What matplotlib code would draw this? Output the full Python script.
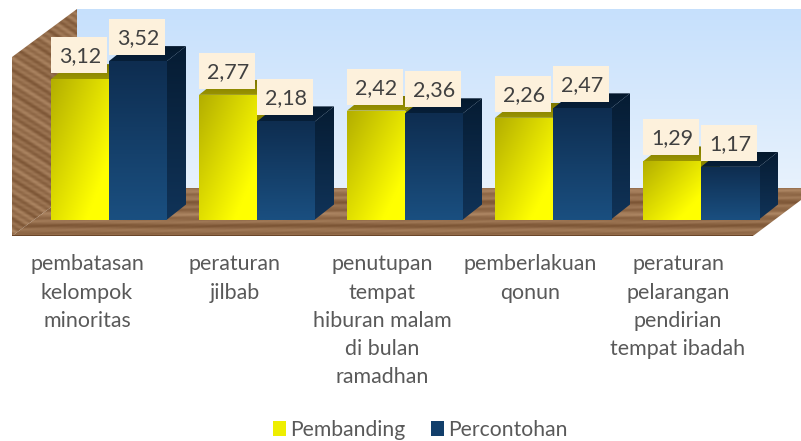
import numpy as np
import matplotlib
matplotlib.use('Agg')
import matplotlib.pyplot as plt
from matplotlib.patches import Polygon, Rectangle, Patch
from matplotlib.colors import to_rgb

plt.rcParams['font.family'] = ['Lato', 'DejaVu Sans']

categories = ['pembatasan\nkelompok\nminoritas', 'peraturan\njilbab',
              'penutupan\ntempat\nhiburan malam\ndi bulan\nramadhan',
              'pemberlakuan\nqonun', 'peraturan\npelarangan\npendirian\ntempat ibadah']
pembanding = [3.12, 2.77, 2.42, 2.26, 1.29]
percontohan = [3.52, 2.18, 2.36, 2.47, 1.17]
value_labels_a = ['3,12', '2,77', '2,42', '2,26', '1,29']
value_labels_b = ['3,52', '2,18', '2,36', '2,47', '1,17']

W, H = 801, 441
BASE_Y = 219.5    # pixel row of value 0
PX_UNIT = 45      # pixels per value unit
PITCH = 148       # pixels between groups
LEFT = 51
BAR_W = 58
DX, DY = 19, 15   # depth of the bars

fig = plt.figure(figsize=(W / 100, H / 100), dpi=100)
ax = fig.add_axes([0, 0, 1, 1])
ax.set_xlim(-LEFT / PITCH, (W - LEFT) / PITCH)
ax.set_ylim((BASE_Y - H) / PX_UNIT, BASE_Y / PX_UNIT)
ax.axis('off')


def px(x, y):
    # pixel of the picture -> data coords
    return (x - LEFT) / PITCH, (BASE_Y - y) / PX_UNIT


def shaded(points, img, zorder):
    # polygon in pixel coords filled with an image
    pts = [px(*p) for p in points]
    poly = Polygon(pts, closed=True, fc='none', ec='none', zorder=zorder)
    ax.add_patch(poly)
    xs = [p[0] for p in pts]
    ys = [p[1] for p in pts]
    im = ax.imshow(img, extent=(min(xs), max(xs), min(ys), max(ys)), origin='upper',
                   aspect='auto', zorder=zorder, interpolation='bilinear')
    im.set_clip_path(poly)


def ramp(c1, c2, t):
    c1, c2 = np.array(to_rgb(c1)), np.array(to_rgb(c2))
    return c1 + (c2 - c1) * t[..., None]


def wood(rows, cols, dark='#7c5535', light='#ac8562', slope=0.0, wave=2.0):
    # grain from sines
    yy, xx = np.mgrid[0:rows, 0:cols]
    g = (np.sin(yy * 0.8 + slope * xx + wave * np.sin(xx / 37.0)) +
         0.7 * np.sin(yy * 0.29 + slope * xx * 0.4 + 0.2 * wave * xx / 61.0) +
         0.2 * np.sin(xx / 9.0 + yy * 1.7))
    g = (g + 1.9) / 3.8
    return ramp(dark, light, np.clip(g, 0, 1))


# back wall
t = np.linspace(0, 1, 120)[:, None] * np.ones((120, 2))
shaded([(77, 9), (801, 9), (801, 190), (77, 190)], ramp('#c6e0fc', '#e8f2fd', t), 1)

# left wall and floor
shaded([(12, 57), (77, 9), (77, 188), (12, 236)], wood(228, 65, slope=-0.55), 2)
shaded([(77, 188), (801, 188), (801, 200), (753, 236), (12, 236)], wood(48, 790, wave=0.25), 2)
ax.add_patch(Rectangle(px(12, 236), 741 / PITCH, 1.5 / PX_UNIT, fc='#6a4528', ec='none', zorder=3))


def draw_bars(values, offset, front, side, top, zorder):
    xs = np.arange(len(values)) + offset
    bars = ax.bar(xs, values, width=BAR_W / PITCH, align='edge', color='none',
                  linewidth=0, zorder=zorder)
    for bar in bars:
        x0 = LEFT + bar.get_x() * PITCH
        x1 = x0 + BAR_W
        y1 = BASE_Y - bar.get_height() * PX_UNIT
        # side face
        shaded([(x1, y1), (x1 + DX, y1 - DY), (x1 + DX, BASE_Y - DY), (x1, BASE_Y)],
               ramp(side[0], side[1], t), zorder)
        # top face
        shaded([(x0, y1), (x0 + DX, y1 - DY), (x1 + DX, y1 - DY), (x1, y1)],
               ramp(top[0], top[1], t), zorder)
        # front face
        yy, xx = np.mgrid[0:1:80j, 0:1:60j]
        if front[2] == 'diag':
            img = ramp(front[0], front[1], np.clip(0.65 * xx + 0.6 * yy, 0, 1))
        else:
            img = ramp(front[0], front[1], yy)
        ax.imshow(img, extent=(bar.get_x(), bar.get_x() + bar.get_width(), 0, bar.get_height()),
                  origin='upper', aspect='auto', zorder=zorder + 0.1, interpolation='bilinear')
    return bars


bars_a = draw_bars(pembanding, 0, ('#b3ae00', '#ffff00', 'diag'),
                   ('#8b8500', '#8b8500'), ('#7d7700', '#9a9400'), 4)
bars_b = draw_bars(percontohan, BAR_W / PITCH, ('#0e2d50', '#1a4f80', 'vert'),
                   ('#061c33', '#103358'), ('#04182c', '#071f38'), 5)

# value labels on top of everything
for bars, labels in ((bars_a, value_labels_a), (bars_b, value_labels_b)):
    for bar, lab in zip(bars, labels):
        ax.annotate(lab, (bar.get_x() + bar.get_width() / 2, bar.get_height()),
                    xytext=(0, 23), textcoords='offset pixels', ha='center', va='center',
                    fontsize=15.5, color='#404040', zorder=10)
        cx = LEFT + (bar.get_x() + bar.get_width() / 2) * PITCH - 1
        y1 = BASE_Y - bar.get_height() * PX_UNIT
        ll = px(cx - 28, y1 - 6)
        ax.add_patch(Rectangle(ll, 56 / PITCH, 36 / PX_UNIT, fc='#fdf1dc', ec='none', zorder=9))

# category labels, not centred on the groups in the source
label_x = [87, 235, 382, 530, 678]
for cat, lx in zip(categories, label_x):
    ax.text(*px(lx, 254.5), cat, ha='center', va='top', fontsize=15.4, color='#595959',
            linespacing=1.51, zorder=10)

handles = [Patch(facecolor='#eeee00', label='Pembanding'),
           Patch(facecolor='#123f6b', label='Percontohan')]
leg = ax.legend(handles=handles, loc='center', bbox_to_anchor=(420 / W, 1 - 429.5 / H), ncol=2,
                frameon=False, fontsize=15.2, labelcolor='#595959', handlelength=0.62,
                handleheight=0.71, handletextpad=0.2, columnspacing=1.2)

fig.savefig('out.png', dpi=100)
